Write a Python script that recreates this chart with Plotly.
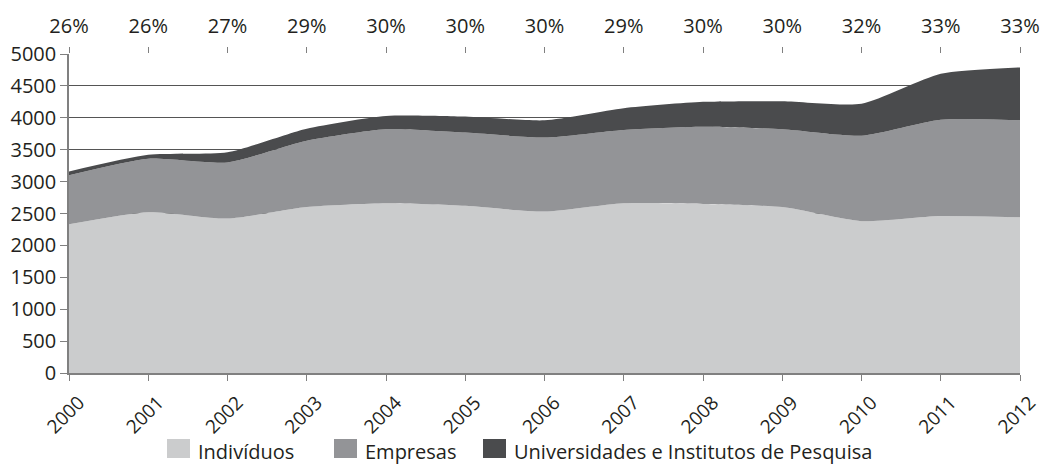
import plotly.graph_objects as go

# Years and series (stacked area: each series adds on top of the previous)
years = [2000, 2001, 2002, 2003, 2004, 2005, 2006, 2007, 2008, 2009, 2010, 2011, 2012]
individuos = [2330, 2520, 2420, 2600, 2660, 2620, 2530, 2660, 2650, 2600, 2380, 2460, 2440]
empresas = [770, 840, 880, 1040, 1160, 1150, 1160, 1150, 1210, 1220, 1340, 1510, 1520]
universidades = [60, 60, 160, 190, 210, 250, 270, 340, 390, 440, 500, 720, 830]
pct_labels = ["26%", "26%", "27%", "29%", "30%", "30%", "30%", "29%", "30%", "30%", "32%", "33%", "33%"]

names = ["Indivíduos", "Empresas", "Universidades e Institutos de Pesquisa"]
colors = ["#cbcccd", "#939497", "#4a4b4d"]
FONT = "Open Sans"

W, H = 1043, 465
ML, MR, MT, MB = 69, 23, 54, 92
PW, PH = W - ML - MR, H - MT - MB


def px_x(px):
    return (px - ML) / PW


def px_y(py):
    return (H - MB - py) / PH


fig = go.Figure()
for name, vals, col in zip(names, [individuos, empresas, universidades], colors):
    fig.add_trace(go.Scatter(
        x=years, y=vals, name=name, stackgroup="one",
        mode="lines", line=dict(width=0, shape="spline", smoothing=0.6, color=col),
        fillcolor=col, showlegend=False, hoverinfo="skip",
    ))

# Invisible trace so the top axis (percent labels) is drawn
fig.add_trace(go.Scatter(x=years, y=[None] * len(years), xaxis="x2", showlegend=False,
                         mode="markers", hoverinfo="skip"))

# Legend row below the chart: square swatch followed by its label
legend_swatch_left = [167, 334, 483]
shapes, annotations = [], []
for name, col, left in zip(names, colors, legend_swatch_left):
    shapes.append(dict(
        type="rect", xref="paper", yref="paper",
        x0=px_x(left), x1=px_x(left + 23), y0=px_y(458), y1=px_y(439),
        fillcolor=col, line=dict(width=0), layer="above",
    ))
    annotations.append(dict(
        xref="paper", yref="paper", x=px_x(left + 29), y=px_y(451),
        xanchor="left", yanchor="middle", text=name, showarrow=False,
        font=dict(size=20, color="#231f20", family=FONT),
    ))

fig.update_layout(
    width=W, height=H,
    margin=dict(l=ML, r=MR, t=MT, b=MB),
    paper_bgcolor="white", plot_bgcolor="white",
    font=dict(family=FONT, color="#231f20"),
    showlegend=False,
    shapes=shapes, annotations=annotations,
    xaxis=dict(
        range=[2000, 2012], tickvals=years, ticktext=[str(y) for y in years],
        tickangle=-45, tickfont=dict(size=19, color="#231f20"),
        ticks="outside", ticklen=6, tickcolor="#808080",
        showline=True, linecolor="#808080", linewidth=2,
        showgrid=False, zeroline=False, ticklabelshift=10, ticklabelstandoff=3,
        automargin=False,
    ),
    xaxis2=dict(
        overlaying="x", side="top", range=[2000, 2012], tickvals=years, ticktext=pct_labels,
        tickfont=dict(size=20, color="#231f20"), ticklabelstandoff=6,
        ticks="outside", ticklen=6, tickcolor="#808080",
        showline=False, showgrid=False, zeroline=False, automargin=False,
    ),
    yaxis=dict(
        range=[0, 5000], tickvals=list(range(0, 5001, 500)),
        tickfont=dict(size=20, color="#231f20"),
        ticks="outside", ticklen=7, tickcolor="#808080",
        showline=True, linecolor="#808080", linewidth=1.5,
        showgrid=True, gridcolor="#555555", gridwidth=1, zeroline=False, automargin=False,
    ),
)

fig.write_html("out.html")
